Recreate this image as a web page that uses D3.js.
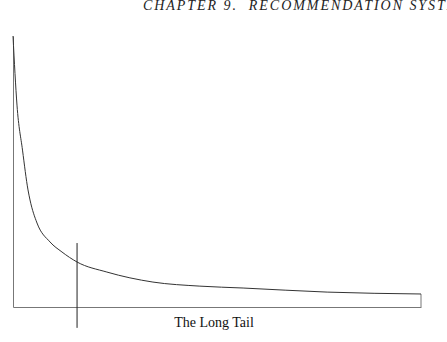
<!DOCTYPE html>
<html>
<head>
<meta charset="utf-8">
<script src="https://cdn.jsdelivr.net/npm/d3@7"></script>
<style>
  body { margin: 0; background: #fff; }
  svg { display: block; }
  .header, .caption { font-family: "Liberation Serif", "Times New Roman", Times, "DejaVu Serif", serif; }
  .header { font-style: italic; white-space: pre; }
</style>
</head>
<body>
<div class="chart"></div>
<script>
// rank along the x axis (0-100) and popularity (0-100)
var rank = [0, 0.98, 2.33, 3.68, 4.17, 5.88, 9.07, 12.0, 15.7, 23.0, 34.3, 45.8, 56.4, 77.0, 100];
var popularity = [100, 74.5, 57.9, 43.2, 39.5, 31.0, 24.0, 20.3, 16.6, 12.9, 9.2, 7.7, 7.0, 5.5, 4.8];

// the cut-off marker: where it sits and how far it reaches
var cutRank = 15.7;
var cutSpan = [23.6, -7.7];

var headerText = "CHAPTER 9.  RECOMMENDATION SYSTEMS";
var captionText = "The Long Tail";

var svgWidth = 447;
var svgHeight = 342;

var margin = {
    top: 36,
    right: 26,
    bottom: 35,
    left: 13
};

var width = svgWidth - margin.left - margin.right;
var height = svgHeight - margin.top - margin.bottom;

var svg = d3.select(".chart")
    .append("svg")
    .attr("width", svgWidth)
    .attr("height", svgHeight);

// running page header (cut off at the right edge, as on the page scan)
svg.append("text")
    .attr("class", "header")
    .attr("x", 143)
    .attr("y", 10)
    .attr("font-size", 14)
    .attr("letter-spacing", 1.95)
    .attr("fill", "#222")
    .text(headerText);

var chartGroup = svg.append("g")
    .attr("transform", `translate(${margin.left}, ${margin.top})`);

var xScale = d3.scaleLinear()
    .domain([0, 100])
    .range([0, width]);

var yScale = d3.scaleLinear()
    .domain([0, 100])
    .range([height, 0]);

// axes, no ticks
var bottomAxis = d3.axisBottom(xScale).tickValues([]).tickSizeOuter(0);
var leftAxis = d3.axisLeft(yScale).tickValues([]).tickSizeOuter(0);

chartGroup.append("g")
    .attr("transform", `translate(0, ${height})`)
    .call(bottomAxis)
    .select(".domain")
    .attr("stroke", "#777");

chartGroup.append("g")
    .call(leftAxis)
    .select(".domain")
    .attr("stroke", "#777");

// right edge closing the tail
var last = rank.length - 1;
chartGroup.append("line")
    .attr("x1", xScale(rank[last]))
    .attr("x2", xScale(rank[last]))
    .attr("y1", yScale(popularity[last]))
    .attr("y2", yScale(0))
    .attr("stroke", "#777");

// the curve
var line = d3.line()
    .x((d, i) => xScale(rank[i]))
    .y(d => yScale(d))
    .curve(d3.curveMonotoneX);

chartGroup.append("path")
    .datum(popularity)
    .attr("d", line)
    .attr("fill", "none")
    .attr("stroke", "#333")
    .attr("stroke-width", 1);

// cut-off marker
chartGroup.append("line")
    .attr("x1", xScale(cutRank))
    .attr("x2", xScale(cutRank))
    .attr("y1", yScale(cutSpan[0]))
    .attr("y2", yScale(cutSpan[1]))
    .attr("stroke", "#222");

// caption
svg.append("text")
    .attr("class", "caption")
    .attr("x", 214)
    .attr("y", 327)
    .attr("text-anchor", "middle")
    .attr("font-size", 14)
    .attr("fill", "#111")
    .text(captionText);
</script>
</body>
</html>
